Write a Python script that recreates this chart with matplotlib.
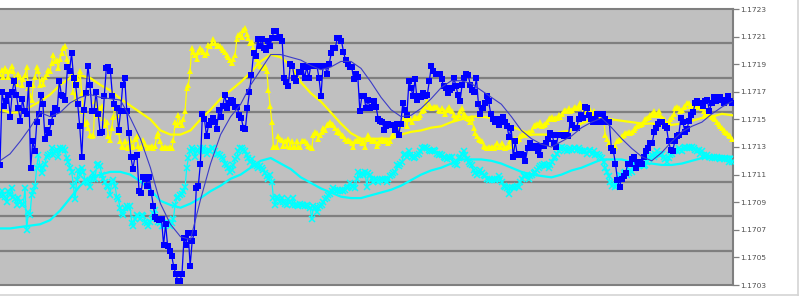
import numpy as np
import matplotlib
matplotlib.use("Agg")
import matplotlib.pyplot as plt
from matplotlib.lines import Line2D

# ---------------- data (prices) ----------------
blue_price = [
    1.17117, 1.17170, 1.17160, 1.17163, 1.17168, 1.17152, 1.17170, 1.17178, 1.17168, 1.17158,
    1.17149, 1.17165, 1.17156, 1.17154, 1.17176, 1.17115, 1.17134, 1.17127, 1.17148, 1.17154,
    1.17168, 1.17161, 1.17136, 1.17142, 1.17140, 1.17148, 1.17154, 1.17158, 1.17157, 1.17178,
    1.17168, 1.17167, 1.17164, 1.17188, 1.17185, 1.17198, 1.17180, 1.17175, 1.17161, 1.17145,
    1.17123, 1.17157, 1.17169, 1.17189, 1.17175, 1.17156, 1.17156, 1.17170, 1.17154, 1.17140,
    1.17141, 1.17167, 1.17187, 1.17188, 1.17185, 1.17167, 1.17161, 1.17158, 1.17142, 1.17156,
    1.17175, 1.17180, 1.17156, 1.17140, 1.17123, 1.17114, 1.17123, 1.17124, 1.17098, 1.17097,
    1.17108, 1.17107, 1.17102, 1.17108, 1.17097, 1.17087, 1.17079,
    1.17078, 1.17077, 1.17078, 1.17059, 1.17074, 1.17058, 1.17055, 1.17051, 1.17043, 1.17038,
    1.17033, 1.17033, 1.17038, 1.17064, 1.17059, 1.17068, 1.17044, 1.17062, 1.17068, 1.17100,
    1.17102, 1.17118, 1.17154, 1.17150, 1.17138, 1.17146, 1.17149, 1.17151, 1.17148, 1.17143,
    1.17157, 1.17152, 1.17160, 1.17168, 1.17158, 1.17162, 1.17164, 1.17163, 1.17159, 1.17159,
    1.17153, 1.17151, 1.17144, 1.17143, 1.17158, 1.17170, 1.17182, 1.17198, 1.17196, 1.17208,
    1.17203, 1.17208, 1.17202, 1.17200, 1.17207, 1.17203, 1.17209, 1.17214, 1.17214, 1.17209,
    1.17210, 1.17207, 1.17180, 1.17177, 1.17174, 1.17190, 1.17189, 1.17180, 1.17178, 1.17184,
    1.17184, 1.17189,
    1.17180, 1.17188, 1.17180, 1.17189, 1.17189, 1.17189, 1.17189, 1.17180, 1.17167, 1.17189,
    1.17189, 1.17183, 1.17190, 1.17198, 1.17202, 1.17202, 1.17209, 1.17209, 1.17207, 1.17199,
    1.17193, 1.17190, 1.17188, 1.17188, 1.17179, 1.17183, 1.17181, 1.17156, 1.17167, 1.17167,
    1.17158, 1.17164, 1.17158, 1.17159, 1.17163, 1.17159, 1.17150, 1.17149, 1.17148, 1.17142,
    1.17145, 1.17147, 1.17146, 1.17146, 1.17142, 1.17147, 1.17139, 1.17147, 1.17162, 1.17157,
    1.17153, 1.17178, 1.17173, 1.17167, 1.17179, 1.17164, 1.17167, 1.17166, 1.17169, 1.17167,
    1.17168, 1.17178, 1.17189, 1.17185, 1.17183, 1.17183, 1.17183, 1.17179, 1.17174,
    1.17173, 1.17169, 1.17171, 1.17173, 1.17180, 1.17174, 1.17168, 1.17163, 1.17175, 1.17180,
    1.17183, 1.17182, 1.17175, 1.17171, 1.17170, 1.17180, 1.17161, 1.17154, 1.17158, 1.17162,
    1.17167, 1.17163, 1.17154, 1.17150, 1.17148, 1.17150, 1.17146, 1.17150, 1.17152, 1.17148,
    1.17145, 1.17137, 1.17144, 1.17123, 1.17134, 1.17124, 1.17125, 1.17125, 1.17124, 1.17120,
    1.17129, 1.17133, 1.17129, 1.17130, 1.17131, 1.17127, 1.17124, 1.17131, 1.17131, 1.17133,
    1.17136, 1.17140, 1.17139, 1.17133, 1.17130, 1.17139, 1.17139, 1.17139, 1.17138, 1.17139,
    1.17138, 1.17150, 1.17146, 1.17144, 1.17144, 1.17150, 1.17153, 1.17151, 1.17159, 1.17158,
    1.17153, 1.17150,
    1.17148, 1.17150, 1.17154, 1.17148, 1.17148, 1.17154, 1.17150, 1.17148, 1.17148, 1.17129,
    1.17127, 1.17118, 1.17106, 1.17101, 1.17107, 1.17109, 1.17111, 1.17118, 1.17118, 1.17121,
    1.17123, 1.17115, 1.17119, 1.17119, 1.17118, 1.17123, 1.17127, 1.17129, 1.17133, 1.17133,
    1.17141, 1.17144, 1.17147, 1.17148, 1.17148, 1.17145, 1.17144, 1.17134, 1.17128, 1.17127,
    1.17134, 1.17138, 1.17139, 1.17151, 1.17148, 1.17141, 1.17143, 1.17149, 1.17153, 1.17155,
    1.17162, 1.17163, 1.17162, 1.17162, 1.17160, 1.17163, 1.17164, 1.17156, 1.17162, 1.17166,
    1.17163, 1.17164, 1.17166, 1.17164, 1.17162, 1.17163, 1.17167, 1.17163, 1.17162,
]

yellow_price = [
    1.17183, 1.17186, 1.17181, 1.17187, 1.17185, 1.17181, 1.17186, 1.17189, 1.17185, 1.17177,
    1.17176, 1.17183, 1.17181, 1.17175, 1.17179, 1.17182, 1.17188, 1.17173, 1.17168, 1.17164,
    1.17175, 1.17181, 1.17188, 1.17185, 1.17175, 1.17179, 1.17176, 1.17181, 1.17183, 1.17186,
    1.17185, 1.17191, 1.17197, 1.17192, 1.17193, 1.17187, 1.17194, 1.17198, 1.17202, 1.17203,
    1.17194, 1.17191, 1.17186, 1.17182, 1.17170, 1.17165, 1.17180, 1.17175, 1.17185, 1.17169,
    1.17156, 1.17147, 1.17148, 1.17144, 1.17139, 1.17138, 1.17139, 1.17163, 1.17159, 1.17153,
    1.17158, 1.17160, 1.17151, 1.17146, 1.17148, 1.17138, 1.17135, 1.17144, 1.17152, 1.17160,
    1.17153, 1.17141, 1.17134, 1.17131, 1.17130, 1.17134, 1.17130, 1.17129, 1.17135, 1.17130,
    1.17131, 1.17136, 1.17138, 1.17131, 1.17129, 1.17131, 1.17135, 1.17132, 1.17129, 1.17130,
    1.17130, 1.17131, 1.17129, 1.17131, 1.17138, 1.17140, 1.17134, 1.17130, 1.17129, 1.17130,
    1.17129, 1.17129, 1.17130, 1.17129, 1.17135, 1.17148, 1.17146, 1.17153, 1.17148, 1.17146,
    1.17150, 1.17156, 1.17173, 1.17175, 1.17185, 1.17202, 1.17199, 1.17197, 1.17194, 1.17199,
    1.17202, 1.17200, 1.17199, 1.17197, 1.17198, 1.17204, 1.17203, 1.17205, 1.17208, 1.17205,
    1.17203, 1.17204, 1.17203, 1.17202, 1.17200, 1.17199, 1.17197, 1.17195, 1.17193, 1.17191,
    1.17194, 1.17197, 1.17208, 1.17211, 1.17212, 1.17210, 1.17215, 1.17216, 1.17212, 1.17209,
    1.17205, 1.17206, 1.17202, 1.17199, 1.17194, 1.17191, 1.17189, 1.17188, 1.17187, 1.17189,
    1.17185, 1.17171, 1.17160, 1.17148, 1.17130, 1.17130, 1.17130, 1.17138, 1.17136, 1.17135,
    1.17131, 1.17134, 1.17131, 1.17136, 1.17130, 1.17134, 1.17130,
    1.17130, 1.17134, 1.17130, 1.17130, 1.17134, 1.17134, 1.17134, 1.17133, 1.17131, 1.17130,
    1.17129, 1.17139, 1.17141, 1.17140, 1.17136, 1.17139, 1.17141, 1.17144, 1.17142, 1.17146,
    1.17147, 1.17148, 1.17147, 1.17146, 1.17144, 1.17141, 1.17142, 1.17140, 1.17139, 1.17138,
    1.17136, 1.17134, 1.17135, 1.17134, 1.17133, 1.17130, 1.17134, 1.17135, 1.17134, 1.17136,
    1.17133, 1.17134, 1.17130, 1.17136, 1.17139, 1.17136, 1.17134, 1.17135, 1.17134, 1.17131,
    1.17133, 1.17135, 1.17136, 1.17134, 1.17135, 1.17134, 1.17133, 1.17134, 1.17138, 1.17139,
    1.17142, 1.17144, 1.17141, 1.17146, 1.17148, 1.17150, 1.17150, 1.17145, 1.17152, 1.17150,
    1.17148, 1.17151, 1.17152, 1.17151, 1.17152, 1.17153, 1.17156, 1.17157, 1.17160, 1.17163,
    1.17159, 1.17160, 1.17158, 1.17159, 1.17159, 1.17159, 1.17157,
    1.17156, 1.17158, 1.17156, 1.17154, 1.17157, 1.17159, 1.17157, 1.17156, 1.17153, 1.17151,
    1.17152, 1.17153, 1.17156, 1.17158, 1.17154, 1.17153, 1.17151, 1.17150, 1.17148, 1.17151,
    1.17144, 1.17140, 1.17138, 1.17136, 1.17135, 1.17134, 1.17131, 1.17130, 1.17129, 1.17130,
    1.17129, 1.17130, 1.17129, 1.17131, 1.17133, 1.17130, 1.17131, 1.17133, 1.17130, 1.17129,
    1.17130, 1.17131, 1.17134, 1.17131, 1.17135, 1.17136, 1.17134, 1.17136, 1.17138, 1.17139,
    1.17140, 1.17139, 1.17140, 1.17141, 1.17140, 1.17142, 1.17145, 1.17146, 1.17147, 1.17146,
    1.17148, 1.17145, 1.17146, 1.17147, 1.17148, 1.17150, 1.17151, 1.17152, 1.17150, 1.17151,
    1.17151, 1.17153, 1.17152, 1.17154, 1.17156, 1.17157, 1.17156, 1.17158, 1.17156, 1.17157,
    1.17158, 1.17159, 1.17158, 1.17160, 1.17162, 1.17159, 1.17156,
    1.17158, 1.17153, 1.17156, 1.17157, 1.17154, 1.17156, 1.17153, 1.17152, 1.17151, 1.17152,
    1.17151, 1.17150, 1.17139, 1.17136, 1.17133, 1.17131, 1.17130, 1.17129, 1.17131, 1.17134,
    1.17135, 1.17136, 1.17138, 1.17139, 1.17140, 1.17140, 1.17141, 1.17140, 1.17141, 1.17142,
    1.17144, 1.17145, 1.17146, 1.17146, 1.17147, 1.17148, 1.17150, 1.17151, 1.17152, 1.17153,
    1.17154, 1.17156, 1.17153, 1.17154, 1.17156, 1.17153, 1.17151, 1.17150, 1.17148, 1.17147,
    1.17148, 1.17150, 1.17152, 1.17154, 1.17158, 1.17159, 1.17158, 1.17156, 1.17157, 1.17159,
    1.17160, 1.17162, 1.17162, 1.17160, 1.17160, 1.17159, 1.17160, 1.17160, 1.17159, 1.17159,
    1.17158, 1.17156, 1.17154, 1.17153, 1.17156, 1.17154, 1.17152, 1.17151, 1.17150, 1.17148,
    1.17147, 1.17145, 1.17144, 1.17142, 1.17141, 1.17140, 1.17139, 1.17138, 1.17136,
]

cyan_price = [
    1.17095, 1.17098, 1.17095, 1.17094, 1.17090, 1.17098, 1.17095, 1.17100, 1.17094, 1.17092,
    1.17088, 1.17093, 1.17090, 1.17088, 1.17089, 1.17100, 1.17070, 1.17083, 1.17081, 1.17095,
    1.17098, 1.17102, 1.17115, 1.17124, 1.17116, 1.17111, 1.17115, 1.17118, 1.17123, 1.17124,
    1.17125, 1.17129, 1.17124, 1.17127, 1.17128, 1.17123, 1.17129, 1.17128, 1.17129, 1.17128,
    1.17122, 1.17119, 1.17115, 1.17112, 1.17102, 1.17092, 1.17106, 1.17113, 1.17110, 1.17115,
    1.17112, 1.17106, 1.17105, 1.17104, 1.17101, 1.17107, 1.17111, 1.17107, 1.17117, 1.17118,
    1.17116, 1.17110, 1.17107, 1.17105, 1.17102, 1.17101, 1.17095, 1.17105, 1.17106, 1.17102,
    1.17094, 1.17092, 1.17086, 1.17082, 1.17081, 1.17086, 1.17087, 1.17086, 1.17087, 1.17075,
    1.17073, 1.17078, 1.17081, 1.17080, 1.17078, 1.17081, 1.17080, 1.17076, 1.17075, 1.17073,
    1.17076, 1.17078, 1.17082, 1.17084, 1.17078, 1.17076, 1.17075, 1.17073, 1.17073, 1.17075,
    1.17076, 1.17075, 1.17073, 1.17075, 1.17078, 1.17088, 1.17093, 1.17094, 1.17095, 1.17096,
    1.17098, 1.17101, 1.17115, 1.17122, 1.17127, 1.17129, 1.17128, 1.17123, 1.17127, 1.17128,
    1.17129, 1.17127, 1.17129, 1.17127, 1.17125, 1.17128, 1.17127, 1.17129, 1.17129, 1.17127,
    1.17125, 1.17125, 1.17124, 1.17123, 1.17121, 1.17118, 1.17117, 1.17115, 1.17112, 1.17113,
    1.17117, 1.17121, 1.17123, 1.17127, 1.17129, 1.17129, 1.17128, 1.17127, 1.17124, 1.17122,
    1.17119, 1.17121, 1.17118, 1.17117, 1.17116, 1.17115, 1.17116, 1.17115, 1.17113, 1.17111,
    1.17109, 1.17107, 1.17110, 1.17105, 1.17093, 1.17088, 1.17094, 1.17092, 1.17090, 1.17093,
    1.17090, 1.17089, 1.17088, 1.17092, 1.17090, 1.17088, 1.17093,
    1.17088, 1.17088, 1.17087, 1.17089, 1.17088, 1.17088, 1.17087, 1.17088, 1.17087, 1.17086,
    1.17078, 1.17087, 1.17086, 1.17083, 1.17086, 1.17087, 1.17088, 1.17090, 1.17092, 1.17093,
    1.17095, 1.17096, 1.17098, 1.17100, 1.17099, 1.17098, 1.17099, 1.17098, 1.17099, 1.17098,
    1.17099, 1.17100, 1.17101, 1.17104, 1.17102, 1.17101, 1.17100, 1.17107, 1.17112, 1.17110,
    1.17111, 1.17110, 1.17112, 1.17101, 1.17111, 1.17110, 1.17107, 1.17105, 1.17107, 1.17106,
    1.17105, 1.17106, 1.17107, 1.17106, 1.17107, 1.17105, 1.17107, 1.17109, 1.17110, 1.17111,
    1.17112, 1.17117, 1.17116, 1.17118, 1.17119, 1.17124, 1.17125, 1.17123, 1.17127, 1.17124,
    1.17123, 1.17122, 1.17123, 1.17124, 1.17125, 1.17127, 1.17129, 1.17129, 1.17130, 1.17129,
    1.17128, 1.17127, 1.17127, 1.17128, 1.17127, 1.17125, 1.17124,
    1.17125, 1.17124, 1.17123, 1.17122, 1.17121, 1.17123, 1.17122, 1.17123, 1.17119, 1.17118,
    1.17117, 1.17122, 1.17123, 1.17125, 1.17127, 1.17124, 1.17121, 1.17119, 1.17118, 1.17117,
    1.17113, 1.17111, 1.17110, 1.17112, 1.17113, 1.17111, 1.17110, 1.17109, 1.17107, 1.17106,
    1.17107, 1.17106, 1.17107, 1.17106, 1.17107, 1.17109, 1.17107, 1.17105, 1.17102, 1.17101,
    1.17100, 1.17096, 1.17100, 1.17101, 1.17100, 1.17101, 1.17102, 1.17101, 1.17105, 1.17107,
    1.17109, 1.17109, 1.17110, 1.17107, 1.17109, 1.17110, 1.17111, 1.17112, 1.17113, 1.17115,
    1.17116, 1.17117, 1.17118, 1.17116, 1.17117, 1.17115, 1.17117, 1.17119, 1.17122, 1.17123,
    1.17125, 1.17127, 1.17129, 1.17130, 1.17129, 1.17128, 1.17127, 1.17128, 1.17129, 1.17128,
    1.17129, 1.17129, 1.17128, 1.17129, 1.17128, 1.17127, 1.17127,
    1.17127, 1.17125, 1.17127, 1.17128, 1.17125, 1.17127, 1.17124, 1.17125, 1.17124, 1.17123,
    1.17122, 1.17119, 1.17115, 1.17112, 1.17109, 1.17105, 1.17102, 1.17104, 1.17101, 1.17105,
    1.17107, 1.17110, 1.17109, 1.17111, 1.17112, 1.17110, 1.17111, 1.17113, 1.17112, 1.17115,
    1.17116, 1.17117, 1.17116, 1.17117, 1.17118, 1.17116, 1.17117, 1.17119, 1.17121, 1.17123,
    1.17124, 1.17123, 1.17125, 1.17127, 1.17125, 1.17124, 1.17125, 1.17123, 1.17121, 1.17119,
    1.17122, 1.17124, 1.17125, 1.17127, 1.17128, 1.17127, 1.17129, 1.17128, 1.17127, 1.17129,
    1.17130, 1.17129, 1.17130, 1.17129, 1.17130, 1.17129, 1.17128, 1.17127, 1.17128, 1.17125,
    1.17127, 1.17124, 1.17123, 1.17124, 1.17123, 1.17123, 1.17122, 1.17123, 1.17122, 1.17123,
    1.17122, 1.17121, 1.17122, 1.17121, 1.17122, 1.17121, 1.17119, 1.17121, 1.17119,
]

# moving-average curves
blue_avg = [
    1.17120, 1.17125, 1.17134, 1.17144, 1.17155, 1.17152, 1.17155, 1.17162, 1.17166, 1.17168,
    1.17166, 1.17165, 1.17164, 1.17151, 1.17136, 1.17115, 1.17089, 1.17074, 1.17065, 1.17063,
    1.17092, 1.17118, 1.17139, 1.17152, 1.17161, 1.17175, 1.17186, 1.17197, 1.17197, 1.17195,
    1.17193, 1.17189, 1.17186, 1.17188, 1.17192, 1.17192, 1.17187, 1.17177, 1.17166, 1.17157,
    1.17152, 1.17153, 1.17158, 1.17165, 1.17173, 1.17178, 1.17178, 1.17176, 1.17171, 1.17166,
    1.17161, 1.17152, 1.17142, 1.17136, 1.17132, 1.17130, 1.17134, 1.17138, 1.17144, 1.17148,
    1.17151, 1.17144, 1.17136, 1.17129, 1.17123, 1.17120, 1.17126, 1.17134, 1.17141, 1.17145,
    1.17148, 1.17154, 1.17159, 1.17163,
]
yellow_avg = [
    1.17157, 1.17155, 1.17155, 1.17159, 1.17163, 1.17168, 1.17175, 1.17180, 1.17182, 1.17180,
    1.17175, 1.17171, 1.17165, 1.17160, 1.17155, 1.17150, 1.17142, 1.17139, 1.17139, 1.17142,
    1.17150, 1.17157, 1.17165, 1.17171, 1.17177, 1.17184, 1.17192, 1.17197, 1.17195, 1.17189,
    1.17177, 1.17169, 1.17163, 1.17155, 1.17147, 1.17140, 1.17136, 1.17136, 1.17136, 1.17136,
    1.17139, 1.17141, 1.17142, 1.17144, 1.17145, 1.17148, 1.17150, 1.17152, 1.17152, 1.17151,
    1.17149, 1.17145, 1.17142, 1.17139, 1.17139, 1.17139, 1.17141, 1.17142, 1.17147, 1.17150,
    1.17151, 1.17150, 1.17149, 1.17148, 1.17147, 1.17147, 1.17146, 1.17146, 1.17147, 1.17149,
    1.17151, 1.17152, 1.17154, 1.17153,
]
cyan_avg = [
    1.17071, 1.17071, 1.17072, 1.17073, 1.17074, 1.17077, 1.17084, 1.17093, 1.17102, 1.17108,
    1.17110, 1.17112, 1.17112, 1.17110, 1.17105, 1.17099, 1.17091, 1.17088, 1.17086, 1.17089,
    1.17093, 1.17098, 1.17102, 1.17107, 1.17110, 1.17115, 1.17120, 1.17122, 1.17118, 1.17114,
    1.17108, 1.17104, 1.17100, 1.17097, 1.17094, 1.17093, 1.17093, 1.17095, 1.17097, 1.17099,
    1.17102, 1.17106, 1.17110, 1.17113, 1.17115, 1.17118, 1.17121, 1.17121, 1.17121, 1.17120,
    1.17118, 1.17115, 1.17112, 1.17110, 1.17109, 1.17108, 1.17110, 1.17113, 1.17115, 1.17118,
    1.17121, 1.17121, 1.17121, 1.17119, 1.17118, 1.17118, 1.17117, 1.17117, 1.17118, 1.17120,
    1.17122, 1.17123, 1.17123, 1.17123,
]

y_ticks = [1.1703, 1.1705, 1.1707, 1.1709, 1.1711, 1.1713, 1.1715, 1.1717, 1.1719, 1.1721, 1.1723]
y_tick_labels = ["1.1703", "1.1705", "1.1707", "1.1709", "1.1711", "1.1713",
                 "1.1715", "1.1717", "1.1719", "1.1721", "1.1723"]
grid_levels = [1.1703, 1.17055, 1.1708, 1.17105, 1.1713, 1.17155, 1.1718, 1.17205, 1.1723]

# ---------------- figure ----------------
W, H = 800, 296
fig = plt.figure(figsize=(W / 100, H / 100), dpi=100)
fig.patch.set_facecolor("white")
ax = fig.add_axes([0, 11 / H, 733 / W, 276 / H])
ax.set_facecolor("#c0c0c0")


def tpos(values):
    return np.linspace(0.0, 1.0, len(values))


GRID = "#7f7f7f"

# raw series + averages
ax.plot(tpos(cyan_price), cyan_price, color="#00ffff", lw=0.9, marker="x",
        markersize=4.0, mew=1.1, zorder=3)
ax.plot(tpos(cyan_avg), cyan_avg, color="#00ffff", lw=1.6, zorder=4)
ax.plot(tpos(yellow_price), yellow_price, color="#ffff00", lw=0.9, marker="^",
        markersize=4.3, mew=0, zorder=5)
ax.plot(tpos(yellow_avg), yellow_avg, color="#ffff00", lw=1.6, zorder=6)
ax.plot(tpos(blue_price), blue_price, color="#0000ff", lw=0.9, marker="s",
        markersize=4.3, mew=0, zorder=7)
ax.plot(tpos(blue_avg), blue_avg, color="#3c3cc8", lw=0.8, zorder=8)

ax.set_xlim(0, 1.0014)
ax.set_ylim(1.1703, 1.1723)

# horizontal grid lines
ax.set_yticks(grid_levels, minor=True)
ax.grid(which="minor", axis="y", color=GRID, lw=1.6, zorder=1)
ax.set_axisbelow(True)

ax.yaxis.tick_right()
ax.set_yticks(y_ticks)
ax.set_yticklabels(y_tick_labels)
ax.set_xticks([])
ax.tick_params(axis="y", which="major", direction="out", length=4, width=0.9,
               color=GRID, labelsize=5.4, labelcolor="#505050", pad=1.5)
ax.tick_params(axis="y", which="minor", length=0)

ax.spines["left"].set_visible(False)
for side in ("top", "right", "bottom"):
    ax.spines[side].set_color(GRID)
    ax.spines[side].set_linewidth(1.5)

# light outer border of chart area
fig.add_artist(Line2D([797.5 / W, 797.5 / W], [0, 1], transform=fig.transFigure,
                      color="#d4d4d4", lw=1.2))
fig.add_artist(Line2D([0, 797.5 / W], [0.8 / H, 0.8 / H], transform=fig.transFigure,
                      color="#d4d4d4", lw=1.2))

fig.savefig("out.png", dpi=100, facecolor=fig.get_facecolor())
